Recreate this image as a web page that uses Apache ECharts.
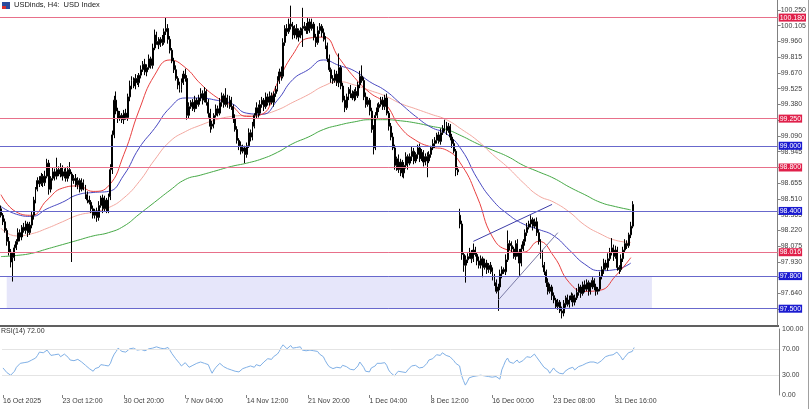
<!DOCTYPE html>
<html>
<head>
<meta charset="utf-8">
<script src="https://cdn.jsdelivr.net/npm/echarts@6/dist/echarts.min.js"></script>
<style>
  html, body { margin: 0; padding: 0; background: #fff; }
  #chart { width: 809px; height: 409px; }
</style>
</head>
<body>
<div id="chart"></div>
<script>
// USDinds H4 - candles, 4 moving averages, levels, RSI(14)
const N_SLOTS = 405; // 330 bars + empty shift on the right

const closes = [
  98.36,98.30,98.22,98.12,98.02,97.93,97.97,98.06,98.12,98.20,
  98.16,98.25,98.22,98.28,98.20,98.27,98.36,98.50,98.60,98.68,
  98.65,98.72,98.66,98.72,98.84,98.60,98.70,98.76,98.72,98.78,
  98.74,98.80,98.72,98.76,98.70,98.78,98.74,98.68,98.70,98.64,
  98.68,98.60,98.66,98.62,98.55,98.50,98.48,98.42,98.36,98.40,
  98.34,98.45,98.52,98.42,98.50,98.40,98.53,98.78,99.10,99.42,
  99.32,99.25,99.28,99.24,99.30,99.26,99.45,99.55,99.60,99.55,
  99.62,99.58,99.65,99.70,99.75,99.68,99.72,99.80,99.74,99.90,
  100.02,99.96,99.93,99.98,99.95,100.05,100.08,99.98,99.88,99.78,
  99.70,99.62,99.56,99.52,99.58,99.66,99.62,99.28,99.36,99.40,
  99.34,99.42,99.38,99.44,99.48,99.42,99.50,99.40,99.30,99.18,
  99.20,99.28,99.34,99.30,99.40,99.46,99.38,99.44,99.38,99.42,
  99.36,99.25,99.15,99.05,99.00,98.95,98.98,98.92,99.00,99.12,
  99.08,99.18,99.28,99.35,99.30,99.38,99.42,99.36,99.45,99.40,
  99.46,99.40,99.48,99.52,99.60,99.68,99.64,99.95,100.08,100.05,
  100.12,100.10,100.02,100.08,100.00,100.06,100.02,100.08,100.10,100.06,
  100.14,100.08,100.12,100.00,99.95,100.06,100.10,100.04,99.98,99.92,
  99.80,99.70,99.62,99.60,99.66,99.58,99.72,99.55,99.42,99.35,
  99.45,99.52,99.48,99.44,99.50,99.46,99.56,99.64,99.60,99.45,
  99.38,99.42,99.32,99.15,98.98,99.28,99.35,99.38,99.42,99.36,
  99.44,99.30,99.18,99.08,98.98,98.82,98.88,98.78,98.85,98.75,
  98.82,98.90,98.84,98.90,98.95,98.86,98.92,98.98,98.88,98.94,
  98.85,98.90,98.86,98.92,98.98,99.02,99.05,99.10,99.04,99.12,
  99.16,99.20,99.14,99.18,99.08,99.02,98.95,98.78,98.76,98.28,
  98.00,97.90,97.95,97.98,98.02,97.96,98.04,98.00,97.94,97.90,
  97.96,97.88,97.92,97.86,97.90,97.84,97.80,97.74,97.66,97.70,
  97.82,97.86,97.84,97.95,98.10,98.08,98.05,97.98,98.10,98.02,
  97.92,98.05,98.12,98.20,98.25,98.28,98.32,98.26,98.30,98.20,
  98.12,98.00,97.90,97.84,97.74,97.66,97.70,97.62,97.58,97.52,
  97.56,97.48,97.46,97.55,97.60,97.54,97.58,97.62,97.56,97.60,
  97.65,97.70,97.64,97.72,97.68,97.74,97.66,97.70,97.76,97.70,
  97.66,97.68,97.80,97.86,97.92,97.88,97.96,98.02,98.06,97.98,
  98.04,97.88,97.86,97.96,98.04,98.10,98.08,98.18,98.26,98.46
];
// wick lengths in hundredths above max(open,close) / below min(open,close)
const hiWick = [
  3,2,3,2,4,3,5,3,2,4, 3,2,4,3,2,3,4,3,2,3, 4,3,2,5,4,3,2,4,3,11, 3,4,2,3,4,3,7,2,3,4,
  3,2,4,3,2,3,4,2,3,2, 3,4,2,3,4,2,3,5,4,4, 8,3,4,2,3,4,3,5,4,3, 4,3,2,4,3,5,3,4,2,4,
  5,3,4,2,4,3,10,4,3,2, 3,4,2,3,4,3,5,3,4,2, 3,4,2,3,5,3,4,2,3,4, 3,2,4,3,4,3,2,9,3,4,
  3,2,4,3,2,4,3,2,3,4, 3,4,2,5,3,4,3,2,4,3, 4,3,2,3,4,3,5,4,3,4, 5,17,4,3,4,2,3,19,4,3,
  4,3,5,2,3,4,3,2,4,3, 3,4,2,3,4,3,13,2,3,4, 3,2,4,3,2,4,3,5,10,3, 4,3,2,3,4,3,4,2,3,3,
  3,4,2,3,4,3,2,4,3,2, 3,4,2,3,4,3,2,3,4,3, 2,3,4,3,2,4,3,2,3,4, 3,4,2,3,2,3,4,2,3,6,
  3,2,4,3,4,2,6,3,2,4, 3,2,4,3,2,3,4,2,3,3, 4,3,2,5,12,3,4,2,3,4, 3,4,2,3,4,3,4,2,3,4,
  3,2,4,3,2,4,3,2,3,2, 3,2,4,3,2,3,4,3,2,3, 4,3,2,3,4,3,2,4,3,2, 3,2,4,3,4,3,5,4,9,3,
  4,3,2,4,3,4,3,2,4,3
];
const loWick = [
  2,3,2,4,3,5,18,3,2,3, 4,3,2,3,4,2,3,4,3,2, 3,2,4,3,2,5,3,2,4,3, 2,3,4,2,3,3,2,75,3,2,
  4,3,2,3,4,3,2,4,3,3, 4,3,2,4,3,2,2,3,4,3, 3,4,2,3,4,2,3,4,3,2, 3,2,4,3,2,3,4,2,3,3,
  2,3,4,2,3,2,3,4,3,2, 3,2,4,3,3,2,3,4,3,2, 2,3,4,2,3,4,2,3,4,6, 3,4,2,3,2,4,3,2,3,4,
  3,4,2,3,4,3,2,8,3,2, 4,3,2,3,4,2,3,4,2,3, 3,2,4,3,2,3,4,2,3,4, 2,3,4,3,2,4,3,11,2,3,
  3,4,2,3,4,2,3,4,2,3, 3,2,4,3,2,3,4,3,2,4, 2,3,4,2,3,4,2,3,2,3, 3,2,4,3,6,2,3,4,2,3,
  3,2,4,3,2,4,5,3,6,4, 5,3,6,2,4,3,2,4,3,2, 4,3,15,2,3,2,4,3,2,3, 2,3,4,2,3,4,2,6,3,4,
  5,6,16,3,2,4,3,2,4,3, 3,9,2,4,3,2,4,3,2,18, 3,4,2,3,2,4,3,2,3,4, 12,3,2,4,3,2,3,4,2,3,
  3,4,2,3,4,3,2,4,3,2, 3,2,5,3,4,2,3,2,4,3, 2,3,4,2,3,2,4,3,2,3, 4,3,2,3,4,2,3,2,3,4,
  2,3,4,2,3,2,3,2,3,2
];
// bars whose open is not the previous close: first bar and the weekend gap
const openOverrides = [[0, 98.42], [239, 98.36]];

const rsiValues = [
  41,38,34,31,30,33,36,42,45,48, 50,49,47,50,52,53,51,56,60,65, 66,64,67,68,66,60,58,61,63,62,
  58,60,62,61,57,53,55,52,55,54, 51,50,47,45,42,40,38,36,40,38, 42,46,48,45,47,44,48,56,62,66,
  71,68,66,67,65,66,70,69,71,70, 68,70,69,71,67,69,70,68,71,72, 73,72,71,73,70,71,72,68,63,60,
  55,52,48,44,46,49,47,42,43,45, 46,48,47,50,49,48,50,46,39,33, 38,42,44,48,46,43,45,40,41,38,
  40,36,33,35,38,40,37,42,39,44, 45,42,46,48,44,47,50,53,55,56, 54,58,56,62,66,72,76,74,70,73,
  75,71,74,72,70,73,68,71,67,66, 68,65,67,64,66,62,60,58,52,47, 43,41,40,38,42,39,41,45,48,43,
  40,39,41,38,40,44,50,47,42,36, 38,35,41,40,44,48,46,48,47,49, 45,38,34,32,29,31,36,33,35,37,
  34,38,41,44,42,45,43,41,44,42, 45,48,53,51,55,58,61,63,60,64, 62,60,61,58,55,52,48,46,44,30,
  22,15,20,26,24,28,27,29,27,30, 28,29,30,28,29,27,30,28,26,24, 38,45,52,56,50,53,48,51,53,49,
  46,52,55,58,61,57,60,62,58,55, 50,47,42,41,38,33,36,41,37,35, 33,30,32,36,38,40,39,42,38,41,
  43,40,45,47,48,46,50,48,50,49, 48,50,52,55,58,56,60,62,61,64, 65,63,58,53,57,60,64,62,66,72
];

// moving averages read every 8 bars
const maStep = 8;
const maRed = [98.55,98.39,98.36,98.50,98.61,98.63,98.58,98.63,98.92,99.33,99.65,99.79,99.72,99.57,
  99.45,99.37,99.27,99.29,99.58,99.84,99.99,100.00,99.81,99.63,99.49,99.39,99.17,99.05,
  98.99,98.96,98.82,98.53,98.16,98.04,98.02,98.12,97.98,97.74,97.66,97.67,97.80,97.97];
const maBlue = [98.44,98.37,98.35,98.42,98.48,98.55,98.57,98.58,98.73,98.98,99.16,99.35,99.44,99.44,
  99.42,99.39,99.30,99.29,99.42,99.61,99.70,99.79,99.74,99.69,99.59,99.51,99.39,99.27,
  99.17,99.11,98.96,98.70,98.50,98.37,98.28,98.23,98.17,98.04,97.91,97.85,97.86,97.92];
const maPink = [98.24,98.17,98.19,98.24,98.30,98.36,98.39,98.43,98.52,98.67,98.87,99.04,99.13,99.19,
  99.24,99.27,99.28,99.29,99.33,99.40,99.47,99.55,99.59,99.56,99.51,99.46,99.39,99.34,
  99.29,99.24,99.15,99.05,98.92,98.80,98.66,98.54,98.48,98.39,98.27,98.19,98.13,98.11];
const maGreen = [97.98,97.99,98.01,98.05,98.09,98.13,98.17,98.20,98.26,98.37,98.48,98.59,98.69,98.73,
  98.77,98.81,98.84,98.88,98.94,99.02,99.08,99.15,99.19,99.22,99.24,99.24,99.23,99.21,
  99.18,99.15,99.09,99.02,98.96,98.90,98.82,98.76,98.70,98.62,98.55,98.48,98.44,98.41];

const redLevels = [100.18, 99.25, 98.80, 98.016];
const blueLevels = [99.00, 98.40, 97.80, 97.50];
const zoneBox = [[3, 97.80], [339, 97.50]];
const trendLines = [
  { from: [246, 98.12], to: [287, 98.46], color: '#3d3da8' },
  { from: [259, 97.58], to: [290, 98.20], color: '#7a7aa6' }
];

const PRICE_MIN = 97.35, PRICE_MAX = 100.342, PRICE_STEP = 0.145;
const rsiTicks = [0, 30, 70, 100];
const timeLabels = ['16 Oct 2025', '23 Oct 12:00', '30 Oct 20:00', '7 Nov 04:00', '14 Nov 12:00',
  '21 Nov 20:00', '1 Dec 04:00', '8 Dec 12:00', '16 Dec 00:00', '23 Dec 08:00', '31 Dec 16:00'];
const timeLabelBars = [0, 31, 63, 95, 127, 159, 191, 223, 255, 287, 319];

const FONT = 'Liberation Sans';
const slots = Array.from({ length: N_SLOTS }, (_, i) => String(i));

const opens = closes.map((c, i) => (i > 0 ? closes[i - 1] : c));
openOverrides.forEach(([i, v]) => { opens[i] = v; });
const candles = closes.map((c, i) => {
  const o = opens[i];
  return [o, c, +(Math.min(o, c) - loWick[i] / 100).toFixed(2), +(Math.max(o, c) + hiWick[i] / 100).toFixed(2)];
});

const maData = arr => arr.map((v, k) => [String(k * maStep), v]);
const isTimeTick = idx => timeLabelBars.includes(idx);

function levelItem(v, lineColor, bg) {
  return {
    yAxis: v,
    lineStyle: { color: lineColor, width: 1, type: 'solid' },
    label: { backgroundColor: bg, formatter: () => v.toFixed(3) }
  };
}

const chart = echarts.init(document.getElementById('chart'));

chart.setOption({
  animation: false,
  backgroundColor: '#ffffff',
  grid: [
    { left: 0, right: 30, top: 0, height: 325 },
    { left: 0, right: 30, top: 329, height: 66 }
  ],
  xAxis: [
    {
      type: 'category', gridIndex: 0, data: slots, boundaryGap: true,
      axisLine: { show: false }, axisTick: { show: false }, axisLabel: { show: false },
      splitLine: { show: false }
    },
    {
      type: 'category', gridIndex: 1, data: slots, boundaryGap: true,
      axisLine: { show: false },
      axisTick: { show: true, interval: isTimeTick, alignWithLabel: true, length: 3, lineStyle: { color: '#808080' } },
      axisLabel: {
        interval: isTimeTick, align: 'left', margin: 3, fontSize: 7, fontFamily: FONT, color: '#404040',
        formatter: (val, idx) => {
          const k = timeLabelBars.indexOf(idx);
          return k >= 0 ? timeLabels[k] : '';
        }
      },
      splitLine: { show: false }
    }
  ],
  yAxis: [
    {
      type: 'value', gridIndex: 0, position: 'right',
      min: PRICE_MIN, max: PRICE_MAX, interval: PRICE_STEP,
      axisLine: { show: true, lineStyle: { color: '#808080' } },
      axisTick: { show: true, length: 3, lineStyle: { color: '#808080' } },
      axisLabel: {
        fontSize: 7, fontFamily: FONT, color: '#404040', margin: 3,
        showMinLabel: false, showMaxLabel: false,
        formatter: v => v.toFixed(3)
      },
      splitLine: { show: false }
    },
    {
      type: 'value', gridIndex: 1, position: 'right', min: 0, max: 100, interval: 10,
      axisLine: { show: true, lineStyle: { color: '#808080' } },
      axisTick: { show: false },
      axisLabel: {
        fontSize: 7, fontFamily: FONT, color: '#404040', margin: 3,
        formatter: v => (rsiTicks.includes(v) ? v.toFixed(2) : '')
      },
      splitLine: { show: false }
    }
  ],
  series: [
    {
      name: 'MA200', type: 'line', xAxisIndex: 0, yAxisIndex: 0, z: 1,
      data: maData(maGreen), smooth: true, symbol: 'none',
      lineStyle: { color: '#45a845', width: 1 },
      markArea: {
        silent: true,
        itemStyle: { color: '#e6e6fa' },
        data: [[{ coord: [String(zoneBox[0][0]), zoneBox[0][1]] }, { coord: [String(zoneBox[1][0]), zoneBox[1][1]] }]]
      }
    },
    {
      name: 'MA100', type: 'line', xAxisIndex: 0, yAxisIndex: 0, z: 2,
      data: maData(maPink), smooth: true, symbol: 'none',
      lineStyle: { color: '#f2a8a0', width: 1 }
    },
    {
      name: 'MA50', type: 'line', xAxisIndex: 0, yAxisIndex: 0, z: 2,
      data: maData(maBlue), smooth: true, symbol: 'none',
      lineStyle: { color: '#4848c0', width: 1 },
      markLine: {
        silent: true, symbol: ['none', 'none'], label: { show: false },
        data: trendLines.map(t => [
          { coord: [String(t.from[0]), t.from[1]], lineStyle: { color: t.color, width: 1, type: 'solid' } },
          { coord: [String(t.to[0]), t.to[1]] }
        ])
      }
    },
    {
      name: 'MA20', type: 'line', xAxisIndex: 0, yAxisIndex: 0, z: 2,
      data: maData(maRed), smooth: true, symbol: 'none',
      lineStyle: { color: '#e84040', width: 1 }
    },
    {
      name: 'USDinds', type: 'candlestick', xAxisIndex: 0, yAxisIndex: 0, z: 3,
      data: candles, barWidth: 1.4,
      itemStyle: { color: '#ffffff', color0: '#000000', borderColor: '#000000', borderColor0: '#000000', borderWidth: 1 },
      markLine: {
        silent: true, symbol: ['none', 'none'],
        label: { show: true, position: 'end', distance: 1, color: '#ffffff', fontSize: 7, fontFamily: FONT, padding: [1, 1, 0, 1] },
        data: [
          ...redLevels.map(v => levelItem(v, '#e8708a', '#e0204a')),
          ...blueLevels.map(v => levelItem(v, '#6868cc', '#1a1ad0'))
        ]
      }
    },
    {
      name: 'RSI(14)', type: 'line', xAxisIndex: 1, yAxisIndex: 1,
      data: rsiValues, symbol: 'none',
      lineStyle: { color: '#80b0e6', width: 1 },
      markLine: {
        silent: true, symbol: ['none', 'none'], label: { show: false },
        lineStyle: { color: '#e4e4e4', width: 1, type: 'solid' },
        data: [{ yAxis: 70 }, { yAxis: 30 }]
      }
    }
  ],
  graphic: [
    { type: 'rect', shape: { x: 0, y: 325, width: 779, height: 2 }, style: { fill: '#606060' }, silent: true },
    { type: 'line', shape: { x1: 808.5, y1: 0, x2: 808.5, y2: 409 }, style: { stroke: '#a0a0a0', lineWidth: 1 }, silent: true },
    { type: 'rect', shape: { x: 2, y: 2, width: 8, height: 7 }, style: { fill: '#2c4c9c' }, silent: true },
    { type: 'rect', shape: { x: 2, y: 6, width: 4, height: 3 }, style: { fill: '#d83030' }, silent: true },
    {
      type: 'text', left: 14, top: 1, silent: true,
      style: { text: 'USDinds, H4:  USD Index', fontSize: 7.5, fontFamily: FONT, fill: '#202020' }
    },
    {
      type: 'text', left: 1, top: 328, silent: true,
      style: { text: 'RSI(14) 72.00', fontSize: 7, fontFamily: FONT, fill: '#303030' }
    }
  ]
});
</script>
</body>
</html>
